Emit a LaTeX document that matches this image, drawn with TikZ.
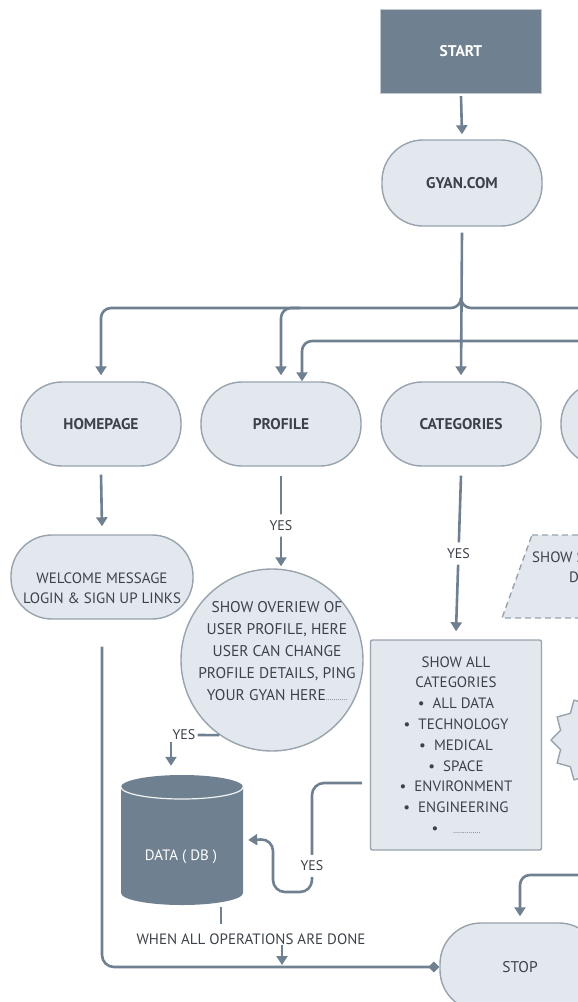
\documentclass[tikz,border=0pt]{standalone}
\usepackage{fontspec}
\setmainfont{PT Sans}
\usetikzlibrary{arrows.meta, positioning, shapes.geometric, calc}
\definecolor{slate}{RGB}{111,128,145}
\definecolor{paleblue}{RGB}{226,232,238}
\definecolor{edgegray}{RGB}{152,163,174}
\definecolor{inkgray}{RGB}{60,66,73}

\begin{document}
\begin{tikzpicture}[x=1pt, y=-1pt,
  stadium/.style={draw=edgegray, line width=1.4pt, fill=paleblue, rounded corners=41pt, minimum width=160pt, minimum height=84pt, text=inkgray, font=\fontsize{15.5}{17}\selectfont\bfseries},
  bodytext/.style={text=inkgray, align=center, inner sep=0pt, font=\fontsize{15}{21.5}\selectfont},
  wire/.style={slate, line width=2.6pt, rounded corners=10pt},
  flow/.style={wire, -{Triangle[width=11pt,length=9pt]}},
  yeslbl/.style={fill=white, text=inkgray, inner xsep=2pt, inner ysep=6pt, font=\fontsize{14}{16}\selectfont}]

  \clip (0,0) rectangle (578,1002);

  \node[draw=edgegray!60, fill=slate, minimum width=161pt, minimum height=84pt, text=white, font=\fontsize{15.5}{17}\selectfont\bfseries] (start) at (461,51) {START};
  \node[stadium, minimum height=86pt] (gyan) at (462,183) {GYAN.COM};

  \node[stadium] (home) at (101,424) {HOMEPAGE};
  \node[stadium] (profile) at (281,424) {PROFILE};
  \node[stadium] (cats) at (461,424) {CATEGORIES};
  \node[stadium] (more) at (641,424) {};

  \node[stadium, minimum width=182pt] (welcome) at (102,577) {};
  \node[bodytext, font=\fontsize{15}{20}\selectfont] (welcometxt) at (102,588) {WELCOME MESSAGE\\LOGIN \& SIGN UP LINKS};

  \node[circle, draw=edgegray, line width=1.4pt, fill=paleblue, minimum size=182pt] (overview) at (272,660) {};
  \node[bodytext, font=\fontsize{15.5}{22}\selectfont] (overviewtxt) at (277,651) {SHOW OVERIEW OF\\USER PROFILE, HERE\\USER CAN CHANGE\\PROFILE DETAILS, PING\\YOUR GYAN HERE{\fontsize{7}{7}\selectfont ...........}};

  \node[draw=edgegray, line width=1.4pt, fill=paleblue, rounded corners=2pt, minimum width=171pt, minimum height=210pt, bodytext, font=\fontsize{15}{20.8}\selectfont] (catlist) at (456,745) {SHOW ALL\\CATEGORIES\\\textbullet\ \ ALL DATA\\\textbullet\ \ TECHNOLOGY\\\textbullet\ \ MEDICAL\\\textbullet\ \ SPACE\\\textbullet\ \ ENVIRONMENT\\\textbullet\ \ ENGINEERING\\\textbullet\quad{\fontsize{7}{7}\selectfont ..............}};

  % dashed output box and burst, both running off the right edge
  \filldraw[fill=paleblue, draw=edgegray, line width=1.4pt, dash pattern=on 6pt off 4pt] (532,535) -- (700,535) -- (700,618) -- (502,618) -- cycle;
  \node[bodytext, anchor=west] (showtxt) at (532,557) {SHOW S};
  \node[bodytext, anchor=west] (showtxt2) at (569,577) {D};
  \node[star, star points=12, star point ratio=1.22, draw=edgegray, line width=1.4pt, fill=paleblue, minimum size=92pt, inner sep=0pt] (burst) at (597,740) {};

  % database
  \fill[slate] (121,787) -- (121,893) arc (180:0:61 and 12) -- (243,787) arc (0:-180:61 and 12) -- cycle;
  \draw[white!90!slate, line width=1.2pt] (121,787) arc (180:0:61 and 12);
  \node[minimum width=122pt, minimum height=130pt] (db) at (182,840) {};
  \node[text=white, font=\fontsize{15}{17}\selectfont] (dbtxt) at (181,857) {DATA ( DB )};

  \node[stadium, minimum height=88pt, font=\fontsize{15.5}{17}\selectfont] (stop) at (520,967) {STOP};

  \node[bodytext] (done) at (251,939) {WHEN ALL OPERATIONS ARE DONE};
  \node[yeslbl, inner ysep=2pt] (yesdb) at (184,735) {YES};

  \coordinate (split) at (461,308);
  \coordinate (loopin) at (362,783);
  \coordinate (base) at (282,968);

  \draw[flow] ([yshift=-3pt]start.south) -- ([yshift=5pt]gyan.north);
  \draw[flow] ([yshift=-6pt]gyan.south) -- ([yshift=6pt]cats.north);
  \draw[flow] ([yshift=10pt]split) -- (split) -- (split -| home) -- ([yshift=6pt]home.north);
  \draw[wire] ([yshift=10pt]split) -- (split) -- (600,308);
  \draw[flow] (300,308) -- (split -| profile) -- ([yshift=6pt]profile.north);
  \draw[flow] (600,341) -- (302,341) -- ([xshift=21pt]profile.north);

  \draw[flow] ([yshift=-8pt]home.south) -- ([yshift=8pt]welcome.north);
  \draw[flow] ([yshift=-9pt]profile.south) -- node[yeslbl, pos=0.55] {YES} ([yshift=2pt]profile.south |- overview.north);
  \draw[flow] ([yshift=-9pt]cats.south) -- node[yeslbl] {YES} ([yshift=8pt]catlist.north);

  \draw[wire] (overview.235) -- (yesdb.east);
  \draw[flow] ([xshift=-13pt]yesdb.south) -- ([xshift=-11pt,yshift=9pt]db.north);
  \draw[flow, rounded corners=12pt] (loopin) -- (312,783) -- node[yeslbl, pos=0.76] {YES} (312,892) -- (273,892) -- (273,839) -- ([xshift=5pt]db.east);

  \draw[wire] ([xshift=39pt,yshift=-2pt]db.south) -- ([xshift=39pt,yshift=-19pt]db.south);
  \draw[flow] (done.south -| base) -- ([yshift=3pt]base);
  \draw[wire, rounded corners=12pt, -{Diamond[width=11pt,length=11pt]}] ([yshift=-27pt]welcome.south) -- (102,967) -- (stop.west);
  \draw[flow] (600,875) -- (stop.north |- 0,875) -- ([yshift=6pt]stop.north);
\end{tikzpicture}
\end{document}
